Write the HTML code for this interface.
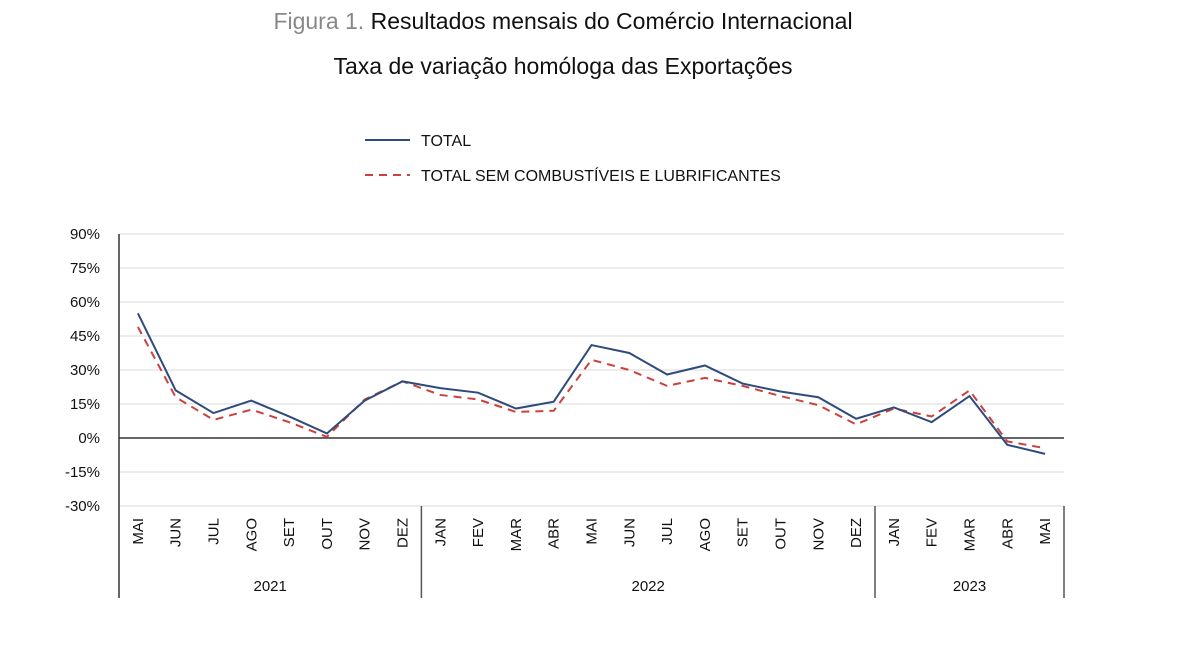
<!DOCTYPE html>
<html><head><meta charset="utf-8"><style>
body{margin:0;background:#fff;font-family:"Liberation Sans",sans-serif;}
svg text{font-family:"Liberation Sans",sans-serif;}
</style></head><body>
<svg id="c" width="1200" height="651" xmlns="http://www.w3.org/2000/svg">
<text x="563" y="29" font-size="23" text-anchor="middle"><tspan fill="#888">Figura 1.</tspan><tspan fill="#111"> Resultados mensais do Comércio Internacional</tspan></text>
<text x="563" y="74" font-size="23" text-anchor="middle" fill="#111">Taxa de variação homóloga das Exportações</text>
<g>
<line x1="365" y1="140" x2="410" y2="140" stroke="#2f4b7c" stroke-width="2"/>
<text x="421" y="146" font-size="16" fill="#111">TOTAL</text>
<line x1="365" y1="175" x2="410" y2="175" stroke="#c9423f" stroke-width="2" stroke-dasharray="8,6"/>
<text x="421" y="181" font-size="16" fill="#111">TOTAL SEM COMBUSTÍVEIS E LUBRIFICANTES</text>
</g>
<g id="plot"></g>
</svg>
<script>
const months=["MAI","JUN","JUL","AGO","SET","OUT","NOV","DEZ","JAN","FEV","MAR","ABR","MAI","JUN","JUL","AGO","SET","OUT","NOV","DEZ","JAN","FEV","MAR","ABR","MAI"];
const years=["2021","2022","2023"];
const yearCounts=[8,12,5];
const total=[55,21,11,16.5,9.5,2,16.5,25,22,20,13,16,41,37.5,28,32,24,20.5,18,8.5,13.5,7,18.5,-3,-7];
const semComb=[49,18,8,12.5,7,0.5,17,25,19,17,11.5,12,34.5,30,23,26.5,23,18.5,14.5,6,13,9.5,21,-1.5,-4.5];
const yTicks=[90,75,60,45,30,15,0,-15,-30];
const X0=119,X1=1064,Y0=506,Y1=234,vmin=-30,vmax=90;
const bw=(X1-X0)/months.length;
const xs=i=>X0+bw*(i+0.5);
const ys=v=>Y0-(v-vmin)/(vmax-vmin)*(Y0-Y1);
const NS="http://www.w3.org/2000/svg";
const g=document.getElementById('plot');
function mk(t,a){const e=document.createElementNS(NS,t);for(const k in a)e.setAttribute(k,a[k]);g.appendChild(e);return e;}
yTicks.forEach(v=>{
 const l=mk('line',{x1:X0,x2:X1,y1:ys(v),y2:ys(v),stroke:v===0?'#333':'#d9d9d9','stroke-width':v===0?1.5:1});
 
 
 const t=mk('text',{x:100,y:ys(v)+5,'font-size':15,'text-anchor':'end',fill:'#111'});
 t.textContent=v+'%';
 
 
});
const ax=mk('line',{x1:X0,x2:X0,y1:Y1,y2:598,stroke:'#333','stroke-width':1.5});


months.forEach((m,i)=>{
 const t=mk('text',{transform:`translate(${xs(i)+5},518) rotate(-90)`,'font-size':15,'text-anchor':'end',fill:'#111'});
 t.textContent=m;
 
 
});
let start=0;
years.forEach((y,k)=>{
 const end=start+yearCounts[k];
 const xe=X0+bw*end;
 const s=mk('line',{x1:xe,x2:xe,y1:Y0,y2:598,stroke:'#555','stroke-width':1.5});
 
 
 const t=mk('text',{x:(X0+bw*start+xe)/2,y:591,'font-size':15,'text-anchor':'middle',fill:'#111'});
 t.textContent=y;
 
 
 start=end;
});
function line(d,col,dash,name){
 const p=mk('polyline',{points:d.map((v,i)=>xs(i)+','+ys(v)).join(' '),fill:'none',stroke:col,'stroke-width':2,'stroke-dasharray':dash});
 
 
}
line(semComb,'#c9423f','8,6','series-total-sem-combustiveis');
line(total,'#2f4b7c','none','series-total');
</script>
</body></html>
